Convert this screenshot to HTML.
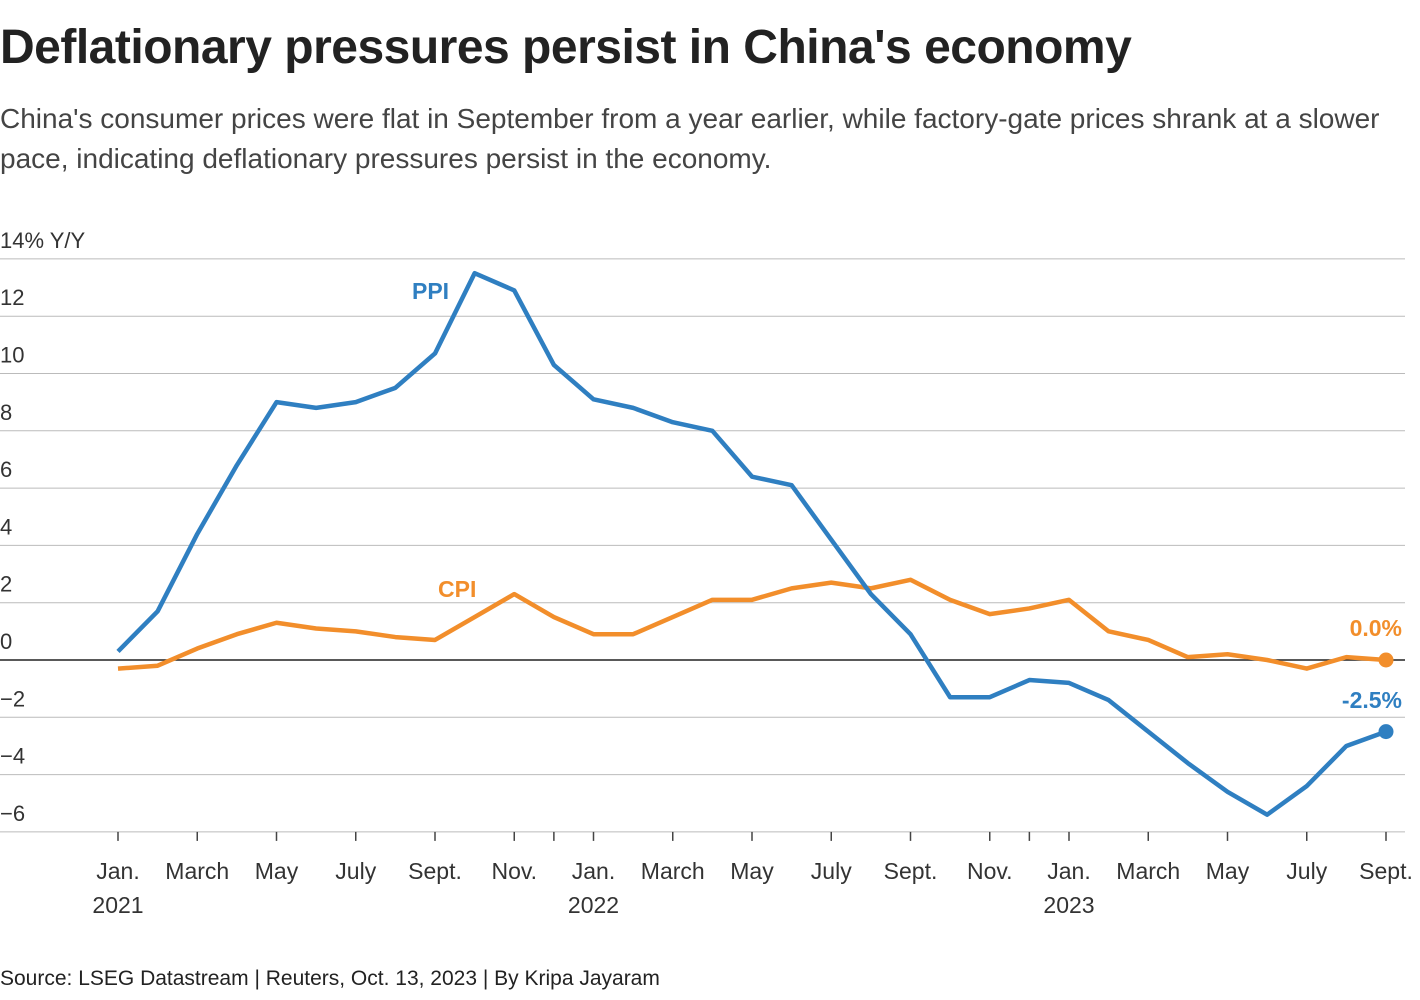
<!DOCTYPE html>
<html><head><meta charset="utf-8"><style>
body{margin:0;width:1420px;height:1000px;background:#fff;font-family:"Liberation Sans",sans-serif;color:#222;overflow:hidden;position:relative}
#title{position:absolute;left:0;top:20px;font-size:48px;font-weight:bold;letter-spacing:-0.5px;margin:0}
#sub{position:absolute;left:0;top:99px;font-size:28px;color:#444;line-height:40px;width:1420px;letter-spacing:0}
#src{position:absolute;left:0;top:967px;font-size:21px;color:#222}
svg{position:absolute;left:0;top:0}
</style></head><body>
<h1 id="title">Deflationary pressures persist in China's economy</h1>
<div id="sub">China's consumer prices were flat in September from a year earlier, while factory-gate prices shrank at a slower pace, indicating deflationary pressures persist in the economy.</div>
<svg id="chart" width="1420" height="1000"></svg>
<div id="src">Source: LSEG Datastream | Reuters, Oct. 13, 2023 | By Kripa Jayaram</div>
<script>
const ppi=[0.3,1.7,4.4,6.8,9.0,8.8,9.0,9.5,10.7,13.5,12.9,10.3,9.1,8.8,8.3,8.0,6.4,6.1,4.2,2.3,0.9,-1.3,-1.3,-0.7,-0.8,-1.4,-2.5,-3.6,-4.6,-5.4,-4.4,-3.0,-2.5];
const cpi=[-0.3,-0.2,0.4,0.9,1.3,1.1,1.0,0.8,0.7,1.5,2.3,1.5,0.9,0.9,1.5,2.1,2.1,2.5,2.7,2.5,2.8,2.1,1.6,1.8,2.1,1.0,0.7,0.1,0.2,0.0,-0.3,0.1,0.0];
const yTicks=[14,12,10,8,6,4,2,0,-2,-4,-6];
const xTickIdx=[0,2,4,6,8,10,11,12,14,16,18,20,22,23,24,26,28,30,32];
const xLabels=[[0,"Jan.","2021"],[2,"March"],[4,"May"],[6,"July"],[8,"Sept."],[10,"Nov."],[12,"Jan.","2022"],[14,"March"],[16,"May"],[18,"July"],[20,"Sept."],[22,"Nov."],[24,"Jan.","2023"],[26,"March"],[28,"May"],[30,"July"],[32,"Sept."]];
const NS="http://www.w3.org/2000/svg",svg=document.getElementById('chart');
const x=i=>118+i*(1386-118)/32, y=v=>660-v*28.65;
function el(t,a,txt){const e=document.createElementNS(NS,t);for(const k in a)e.setAttribute(k,a[k]);if(txt!=null)e.textContent=txt;svg.appendChild(e);return e;}
yTicks.forEach(v=>{
 const g=el('line',{x1:0,x2:1405,y1:y(v),y2:y(v),stroke:v===0?'#222':'#bbb','stroke-width':v===0?1.5:1});
 
 
 const t=el('text',{x:0,y:y(v)-11,'font-size':22,fill:'#333'},v===14?'14% Y/Y':(v<0?'\u2212'+(-v):String(v)));
 
 
});
xTickIdx.forEach(i=>{
 const t=el('line',{x1:x(i),x2:x(i),y1:y(-6),y2:y(-6)+9,stroke:'#444','stroke-width':1.5});
 
 
});
xLabels.forEach(l=>{
 const t=el('text',{x:x(l[0]),y:879,'font-size':23,fill:'#333','text-anchor':'middle'},l[1]);
 
 
 if(l[2]){const t2=el('text',{x:x(l[0]),y:913,'font-size':23,fill:'#333','text-anchor':'middle'},l[2]);
 
 }
});
function line(d,c,n){
 const p=el('polyline',{points:d.map((v,i)=>x(i)+','+y(v)).join(' '),fill:'none',stroke:c,'stroke-width':4.5,'stroke-linejoin':'round'});
 
 
 const c2=el('circle',{cx:x(d.length-1),cy:y(d[d.length-1]),r:7.5,fill:c});
 
 
}
line(cpi,'#f28e2b','cpi');line(ppi,'#2f7fc1','ppi');
[[412,299,'PPI','#2f7fc1','start','ppi-label'],[438,597,'CPI','#f28e2b','start','cpi-label'],[1402,636,(cpi[32]).toFixed(1)+'%','#f28e2b','end','cpi-value-label'],[1402,708,'-'+Math.abs(ppi[32]).toFixed(1)+'%','#2f7fc1','end','ppi-value-label']].forEach(a=>{
 const t=el('text',{x:a[0],y:a[1],'font-size':23,'font-weight':'bold',fill:a[3],'text-anchor':a[4]},a[2]);
 
 
});
</script>
</body></html>
